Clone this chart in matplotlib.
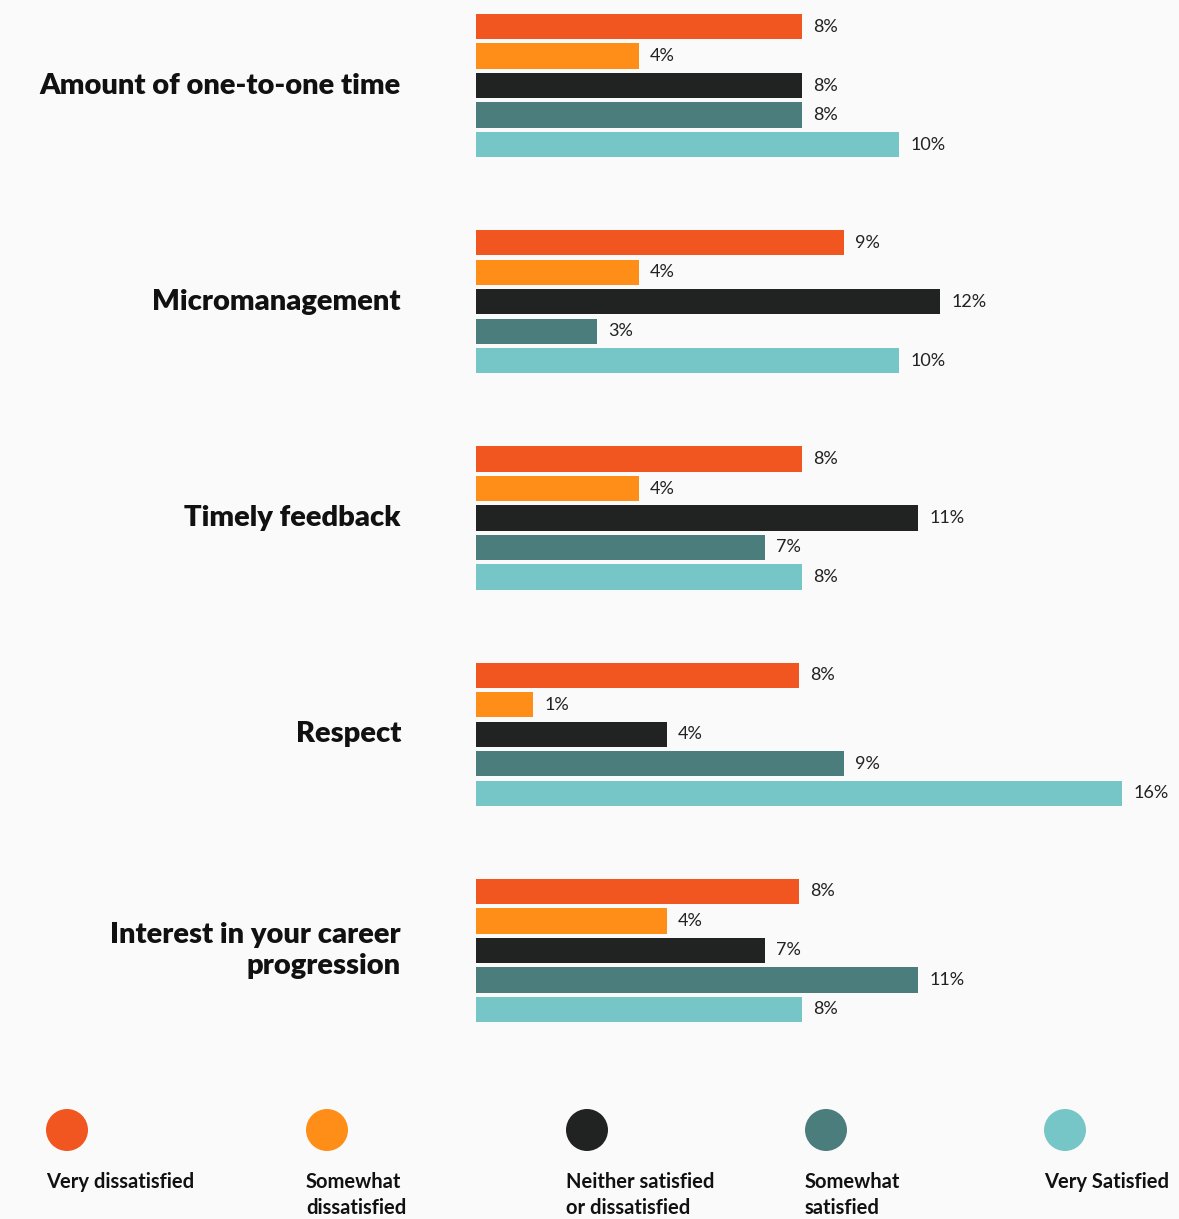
import numpy as np
import matplotlib
matplotlib.use('Agg')
import matplotlib.pyplot as plt
from matplotlib.transforms import blended_transform_factory

categories = ['Amount of one-to-one time', 'Micromanagement', 'Timely feedback',
              'Respect', 'Interest in your career\nprogression']
responses = ['Very dissatisfied', 'Somewhat\ndissatisfied', 'Neither satisfied\nor dissatisfied',
             'Somewhat\nsatisfied', 'Very Satisfied']
colors = ['#F15620', '#FF8E18', '#212322', '#4A7D7C', '#76C6C8']

# values per response, one entry per category
very_dissatisfied = [8.07, 9.11, 8.07, 8.0, 8.0]
somewhat_dissatisfied = [4.03, 4.03, 4.03, 1.41, 4.73]
neither = [8.07, 11.49, 10.94, 4.73, 7.15]
somewhat_satisfied = [8.07, 3.0, 7.15, 9.11, 10.94]
very_satisfied = [10.47, 10.47, 8.07, 16.0, 8.07]

# printed labels
lab_vd = ['8%', '9%', '8%', '8%', '8%']
lab_sd = ['4%', '4%', '4%', '1%', '4%']
lab_ne = ['8%', '12%', '11%', '4%', '7%']
lab_ss = ['8%', '3%', '7%', '9%', '11%']
lab_vs = ['10%', '10%', '8%', '16%', '8%']

series = [very_dissatisfied, somewhat_dissatisfied, neither, somewhat_satisfied, very_satisfied]
labels = [lab_vd, lab_sd, lab_ne, lab_ss, lab_vs]

W, H = 1179, 1219
bg = '#FAFAFA'
fig = plt.figure(figsize=(W / 100, H / 100), dpi=100, facecolor=bg)

gap = 7.33
bar_h = 0.85
xmax = 17
ax = fig.add_axes([476 / W, 1 - 1022 / H, xmax * 40.4 / W, 1008 / H])
ax.set_facecolor(bg)
ax.patch.set_alpha(0)

grp = np.arange(len(categories)) * gap
for j, (vals, labs) in enumerate(zip(series, labels)):
    y = grp + j
    ax.barh(y, vals, height=bar_h, color=colors[j])
    for v, yy, t in zip(vals, y, labs):
        ax.annotate(t, (v, yy), xytext=(8, 0), textcoords='offset points',
                    va='center', ha='left', fontsize=13, color='#222222',
                    family='Lato')

ax.set_xlim(0, xmax)
ax.set_ylim(grp[-1] + 4 + bar_h / 2, -bar_h / 2)
ax.axis('off')

tr = blended_transform_factory(fig.transFigure, ax.transData)
for g, name in zip(grp, categories):
    ax.text(401 / W, g + 2, name, transform=tr, ha='right', va='center',
            multialignment='right', fontsize=21, fontweight='heavy',
            family='Lato', color='#111111', linespacing=1.28)

# legend row
lax = fig.add_axes([0, 0, 1, 110 / H])
lax.set_xlim(0, W)
lax.set_ylim(0, 110)
lax.axis('off')
leg_x = [67, 327, 587, 826, 1065]
lax.scatter(leg_x, [89] * 5, s=(42 / 1.389) ** 2, c=colors, linewidths=0)
for x, r in zip(leg_x, responses):
    lax.text(x - 21, 47, r, ha='left', va='top', fontsize=14.5, fontweight='bold',
             family='Lato', color='#111111', linespacing=1.4)

fig.savefig('out.png', dpi=100, facecolor=bg)
